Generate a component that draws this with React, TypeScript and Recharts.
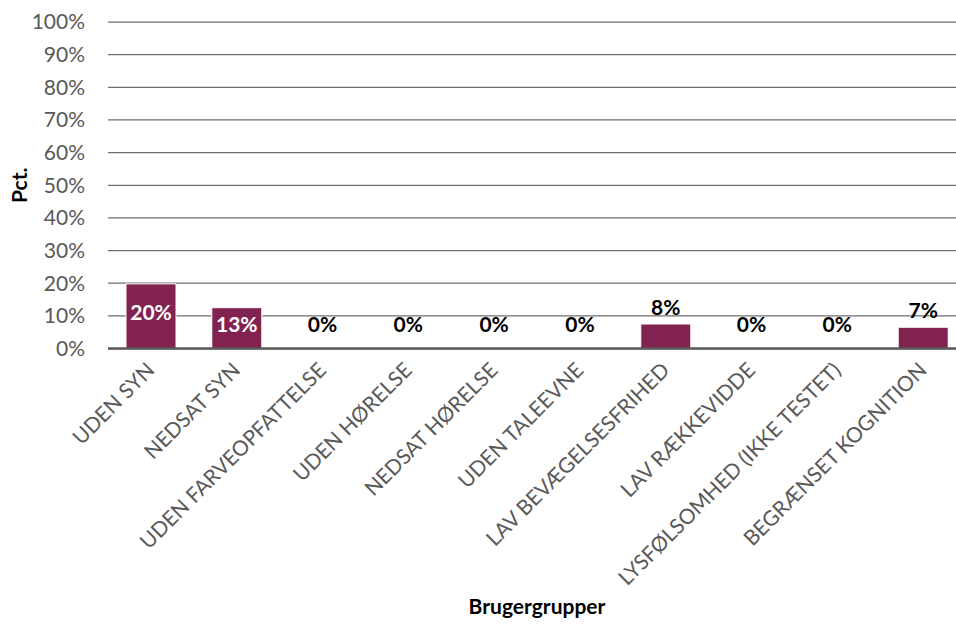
import React from "react";
import { ComposedChart, Bar, Line, XAxis, YAxis, CartesianGrid, LabelList, Label } from "recharts";

const categories = [
  "UDEN SYN",
  "NEDSAT SYN",
  "UDEN FARVEOPFATTELSE",
  "UDEN HØRELSE",
  "NEDSAT HØRELSE",
  "UDEN TALEEVNE",
  "LAV BEVÆGELSESFRIHED",
  "LAV RÆKKEVIDDE",
  "LYSFØLSOMHED (IKKE TESTET)",
  "BEGRÆNSET KOGNITION",
];
const values = [19.8, 12.5, 0, 0, 0, 0, 7.5, 0, 0, 6.5];
const yTicks = [0, 10, 20, 30, 40, 50, 60, 70, 80, 90, 100];

const data = categories.map((name, i) => ({ name, value: values[i] }));

const FONT = "Lato, 'Open Sans', sans-serif";
const FS = 21;
const BAR_COLOR = "#822250";

const XTick = (props: any) => {
  const { x, y, payload } = props;
  return (
    <g transform={`translate(${x + 5},${y + 23})`}>
      <text
        transform="rotate(-45)"
        textAnchor="end"
        fill="#595959"
        fontSize={FS}
        fontFamily={FONT}
      >
        {payload.value}
      </text>
    </g>
  );
};

const BarLabel = (props: any) => {
  const { x, y, width, height, value } = props;
  const v = Number(value);
  if (!(v > 0)) return null;
  const text = `${Math.round(v)}%`;
  const cx = x + width / 2;
  const inside = v >= 10;
  const ly = inside ? y + height / 2 - 4.5 : y - 18;
  return (
    <text
      x={cx}
      y={ly}
      textAnchor="middle"
      dominantBaseline="central"
      fill={inside ? "#ffffff" : "#000000"}
      fontWeight="bold"
      fontSize={FS}
      fontFamily={FONT}
    >
      {text}
    </text>
  );
};

const ZeroLabel = (props: any) => {
  const { x, y, value } = props;
  const v = Number(value);
  if (v !== 0) return null;
  return (
    <text
      x={x}
      y={y - 25}
      textAnchor="middle"
      dominantBaseline="central"
      fill="#000000"
      fontWeight="bold"
      fontSize={FS}
      fontFamily={FONT}
    >
      0%
    </text>
  );
};

const YLabel = (props: any) => {
  const vb = props.viewBox || { x: 0, y: 0, width: 0, height: 0 };
  const cx = 18;
  const cy = vb.y + vb.height / 2;
  return (
    <text
      x={cx}
      y={cy}
      transform={`rotate(-90 ${cx} ${cy})`}
      textAnchor="middle"
      dominantBaseline="central"
      fontWeight="bold"
      fontSize={FS}
      fontFamily={FONT}
      fill="#000000"
    >
      Pct.
    </text>
  );
};

export default function App() {
  return (
    <div style={{ position: "absolute", left: 0, top: 0, width: 956, height: 624, overflow: "hidden", background: "#fff" }}>
      <ComposedChart
        width={966}
        height={624}
        data={data}
        margin={{ top: 22, right: 0, bottom: 0, left: 0 }}
        barSize={50}
      >
        <CartesianGrid vertical={false} stroke="#6f6f6f" strokeWidth={1.25} />
        <XAxis
          dataKey="name"
          interval={0}
          height={275.5}
          tickLine={false}
          tickSize={0}
          tickMargin={0}
          axisLine={{ stroke: "#595959", strokeWidth: 2.5 }}
          tick={<XTick />}
        >
          <Label
            value="Brugergrupper"
            position="insideBottom"
            offset={10}
            style={{ fontWeight: "bold", fontSize: FS, fontFamily: FONT, fill: "#000" }}
          />
        </XAxis>
        <YAxis
          domain={[0, 100]}
          ticks={yTicks}
          interval={0}
          width={108}
          axisLine={false}
          tickLine={false}
          tickSize={0}
          tickMargin={23}
          tickFormatter={(v: number) => `${v}%`}
          tick={{ fill: "#595959", fontSize: FS, fontFamily: FONT }}
        >
          <Label content={<YLabel />} />
        </YAxis>
        <Bar dataKey="value" fill={BAR_COLOR} stroke="#ffffff" strokeWidth={1} isAnimationActive={false}>
          <LabelList dataKey="value" content={<BarLabel />} />
        </Bar>
        <Line
          dataKey="value"
          stroke="none"
          dot={false}
          activeDot={false}
          legendType="none"
          isAnimationActive={false}
        >
          <LabelList dataKey="value" content={<ZeroLabel />} />
        </Line>
      </ComposedChart>
    </div>
  );
}
